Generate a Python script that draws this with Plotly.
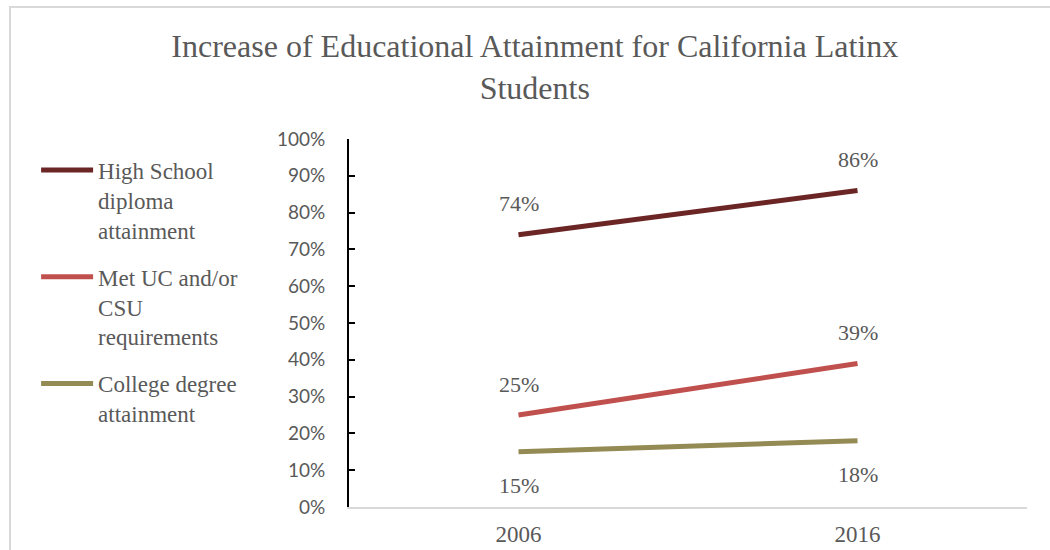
import plotly.graph_objects as go

# Survey years and attainment rates (percent)
years = ["2006", "2016"]
series_names = [
    "High School<br>diploma<br>attainment",
    "Met UC and/or<br>CSU<br>requirements",
    "College degree<br>attainment",
]
high_school = [74, 86]
met_uc_csu = [25, 39]
college_degree = [15, 18]
y_ticks = list(range(0, 101, 10))

series_values = [high_school, met_uc_csu, college_degree]
colors = ["#6B2525", "#C0504D", "#948A54"]
label_above = [True, True, False]

serif = "Liberation Serif"
gray = "#595959"

fig = go.Figure()
for i, (name, vals, col) in enumerate(zip(series_names, series_values, colors)):
    fig.add_trace(go.Scatter(
        x=years, y=vals, name=name, mode="lines",
        line=dict(color=col, width=5),
        legendgroup=f"g{i}", hoverinfo="skip",
    ))
    # value labels, positioned by category index on the category axis
    for k, v in enumerate(vals):
        fig.add_annotation(
            x=k, y=v, text=f"{v}%", showarrow=False,
            xref="x", yref="y",
            yshift=31 if label_above[i] else -34,
            font=dict(family=serif, size=22, color=gray),
        )

# outer chart frame
fig.add_shape(type="rect", xref="paper", yref="paper",
              x0=-0.5, x1=1.1, y0=-0.3, y1=1.359,
              line=dict(color="#D9D9D9", width=2), fillcolor="rgba(0,0,0,0)",
              layer="below")

fig.update_layout(
    width=1050, height=550,
    margin=dict(l=349, r=23, t=139, b=43, autoexpand=False),
    paper_bgcolor="white", plot_bgcolor="white",
    title=dict(
        text="Increase of Educational Attainment for California Latinx<br>Students",
        x=0.274, xref="paper", xanchor="center",
        y=1 - 57 / 550, yref="container", yanchor="top",
        font=dict(family=serif, size=32, color=gray),
    ),
    showlegend=True,
    legend=dict(
        x=-0.4615, xanchor="left", y=0.974, yanchor="top",
        font=dict(family=serif, size=23, color=gray),
        valign="top", tracegroupgap=14, itemwidth=52,
        bgcolor="rgba(0,0,0,0)", maxheight=500,
    ),
    xaxis=dict(
        type="category", range=[-0.5, 1.5],
        showline=True, linecolor="#D9D9D9", linewidth=2,
        showgrid=False, zeroline=False, ticks="",
        tickfont=dict(family=serif, size=23, color=gray),
        ticklabelstandoff=5, fixedrange=True, automargin=False,
    ),
    yaxis=dict(
        range=[0, 100], tickvals=y_ticks,
        ticktext=[f"{t}%" for t in y_ticks],
        showline=True, linecolor="black", linewidth=2,
        showgrid=False, zeroline=False,
        ticks="inside", ticklen=6, tickwidth=2, tickcolor="black",
        tickfont=dict(family="Lato", size=19, color=gray),
        ticklabelstandoff=18, fixedrange=True, automargin=False,
    ),
)

fig.write_html("out.html")
